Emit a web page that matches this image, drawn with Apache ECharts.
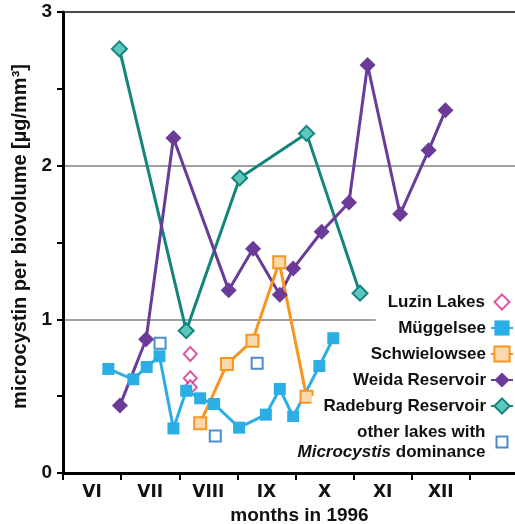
<!DOCTYPE html>
<html>
<head>
<meta charset="utf-8">
<script src="https://cdn.jsdelivr.net/npm/echarts@6/dist/echarts.min.js"></script>
<style>
  html, body { margin: 0; padding: 0; background: #fff; }
  #chart { width: 515px; height: 524px; }
</style>
</head>
<body>
<div id="chart"></div>
<script>
// Month labels along the x axis (last slot is an empty January bucket)
const monthLabels = ['VI', 'VII', 'VIII', 'IX', 'X', 'XI', 'XII', ''];
// Y tick labels, drawn at whole units only
const yTickLabels = ['0', '1', '2', '3'];

// Sampling dates as decimal months (6 = start of June), microcystin per biovolume
const luzinLakes = [[8.19, 0.774], [8.19, 0.616], [8.19, 0.558]];
const mueggelsee = [
  [6.78, 0.677], [7.21, 0.61], [7.44, 0.69], [7.66, 0.76], [7.90, 0.29],
  [8.12, 0.535], [8.36, 0.486], [8.60, 0.449], [9.03, 0.295], [9.49, 0.38],
  [9.73, 0.547], [9.96, 0.366], [10.41, 0.696], [10.65, 0.877]
];
const schwielowsee = [[8.36, 0.323], [8.82, 0.709], [9.26, 0.861], [9.72, 1.371], [10.19, 0.497]];
const weidaReservoir = [
  [6.98, 0.44], [7.43, 0.87], [7.90, 2.18], [8.85, 1.19], [9.27, 1.46],
  [9.73, 1.16], [9.96, 1.33], [10.45, 1.57], [10.92, 1.76], [11.24, 2.655],
  [11.80, 1.685], [12.29, 2.10], [12.58, 2.36]
];
const radeburgReservoir = [[6.97, 2.76], [8.12, 0.926], [9.04, 1.92], [10.19, 2.21], [11.11, 1.17]];
const otherLakes = [[7.67, 0.844], [8.62, 0.241], [9.34, 0.714]];

const FONT = 'Arial, "Liberation Sans", sans-serif';
const WIDE = '"DejaVu Sans", sans-serif';
const OTHER = 'other lakes with Microcystis dominance';

const chart = echarts.init(document.getElementById('chart'), null, { renderer: 'canvas' });

function legendText(padRight, padLeft) {
  return {
    fontFamily: FONT, fontWeight: 'bold', fontSize: 17, color: '#111',
    lineHeight: 20, backgroundColor: '#fff', padding: [0, padRight, 0, padLeft],
    rich: {
      n: { fontFamily: FONT, fontWeight: 'bold', fontSize: 17, lineHeight: 20, color: '#111' },
      i: { fontFamily: FONT, fontWeight: 'bold', fontStyle: 'italic', fontSize: 17, lineHeight: 20, color: '#111' }
    }
  };
}
function legendLabel(name) {
  if (name === OTHER) return '{n|other lakes with}\n{i|Microcystis}{n| dominance}';
  return '{n|' + name + '}';
}
function legendBlock(top, right, names, iconW, iconH, padRight, padLeft) {
  return {
    orient: 'vertical', right: right, top: top, padding: 0,
    align: 'right', itemGap: 6, itemWidth: iconW, itemHeight: iconH,
    textStyle: legendText(padRight, padLeft), formatter: legendLabel, data: names
  };
}

// First legend block carries a white panel that hides the grid line behind the key
const luzinLegend = legendBlock(292, 0, ['Luzin Lakes'], 15, 15, 4.5, 12);
luzinLegend.padding = [0, 4.5, 12, 0];
luzinLegend.backgroundColor = '#fff';

chart.setOption({
  animation: false,
  backgroundColor: '#fff',
  grid: { left: 63, top: 12, width: 465, height: 461, containLabel: false, outerBoundsMode: 'none' },
  legend: [
    luzinLegend,
    legendBlock(318, 1, ['Müggelsee', 'Schwielowsee', 'Weida Reservoir', 'Radeburg Reservoir'], 22, 19, 0, 12),
    legendBlock(422, 6.5, [OTHER], 11, 11, 6, 12)
  ],
  xAxis: [
    {
      type: 'category', data: monthLabels, boundaryGap: true,
      axisLine: { lineStyle: { color: '#000', width: 3 } },
      axisTick: { show: true, length: 7, lineStyle: { color: '#000', width: 2 } },
      axisLabel: { fontFamily: WIDE, fontWeight: 'bold', fontSize: 17, color: '#111', margin: 11 },
      name: 'months in 1996', nameLocation: 'middle', nameGap: 25,
      nameTextStyle: { fontFamily: FONT, fontWeight: 'bold', fontSize: 19, color: '#111', padding: [0, 0, 0, 8] },
      splitLine: { show: false }
    },
    {
      type: 'value', min: 6, max: 14, show: false
    }
  ],
  yAxis: {
    type: 'value', min: 0, max: 3, interval: 1,
    axisLine: { show: true, lineStyle: { color: '#000', width: 3 } },
    axisTick: { show: true, length: 6, lineStyle: { color: '#000', width: 2 } },
    minorTick: { show: true, splitNumber: 2, length: 6, lineStyle: { color: '#000', width: 2 } },
    axisLabel: {
      fontFamily: FONT, fontWeight: 'bold', fontSize: 19, color: '#111', margin: 11,
      formatter: function (v) { return yTickLabels[Math.round(v)]; }
    },
    splitLine: { show: true, lineStyle: { color: ['rgba(0,0,0,0)', '#a0a0a0', '#a0a0a0', '#4a4a4a'], width: 2 } },
    name: 'microcystin per biovolume [µg/mm³]', nameLocation: 'middle', nameGap: 32,
    nameTextStyle: { fontFamily: FONT, fontWeight: 'bold', fontSize: 20, color: '#111', padding: [0, 0, 0, 12] }
  },
  series: [
    {
      name: 'Radeburg Reservoir', type: 'line', xAxisIndex: 1, data: radeburgReservoir,
      symbol: 'diamond', symbolSize: 15,
      lineStyle: { color: '#14857d', width: 3 },
      itemStyle: { color: '#5fc6be', borderColor: '#14857d', borderWidth: 2 }
    },
    {
      name: 'Weida Reservoir', type: 'line', xAxisIndex: 1, data: weidaReservoir,
      symbol: 'diamond', symbolSize: 16,
      lineStyle: { color: '#6a3b98', width: 3 },
      itemStyle: { color: '#6a3b98' }
    },
    {
      name: 'Müggelsee', type: 'line', xAxisIndex: 1, data: mueggelsee,
      symbol: 'rect', symbolSize: 12,
      lineStyle: { color: '#2aaee4', width: 3 },
      itemStyle: { color: '#2aaee4' }
    },
    {
      name: 'Schwielowsee', type: 'line', xAxisIndex: 1, data: schwielowsee,
      symbol: 'rect', symbolSize: 12,
      lineStyle: { color: '#f7951e', width: 3 },
      itemStyle: { color: '#fdd8ac', borderColor: '#f7951e', borderWidth: 2 }
    },
    {
      name: 'Luzin Lakes', type: 'scatter', xAxisIndex: 1, data: luzinLakes,
      symbol: 'diamond', symbolSize: [13, 14],
      itemStyle: { color: '#fff', borderColor: '#d62a8d', borderWidth: 2 }
    },
    {
      name: OTHER, type: 'scatter', xAxisIndex: 1, data: otherLakes,
      symbol: 'rect', symbolSize: 11,
      itemStyle: { color: '#fff', borderColor: '#1d6fc0', borderWidth: 2 }
    }
  ]
});
</script>
</body>
</html>
